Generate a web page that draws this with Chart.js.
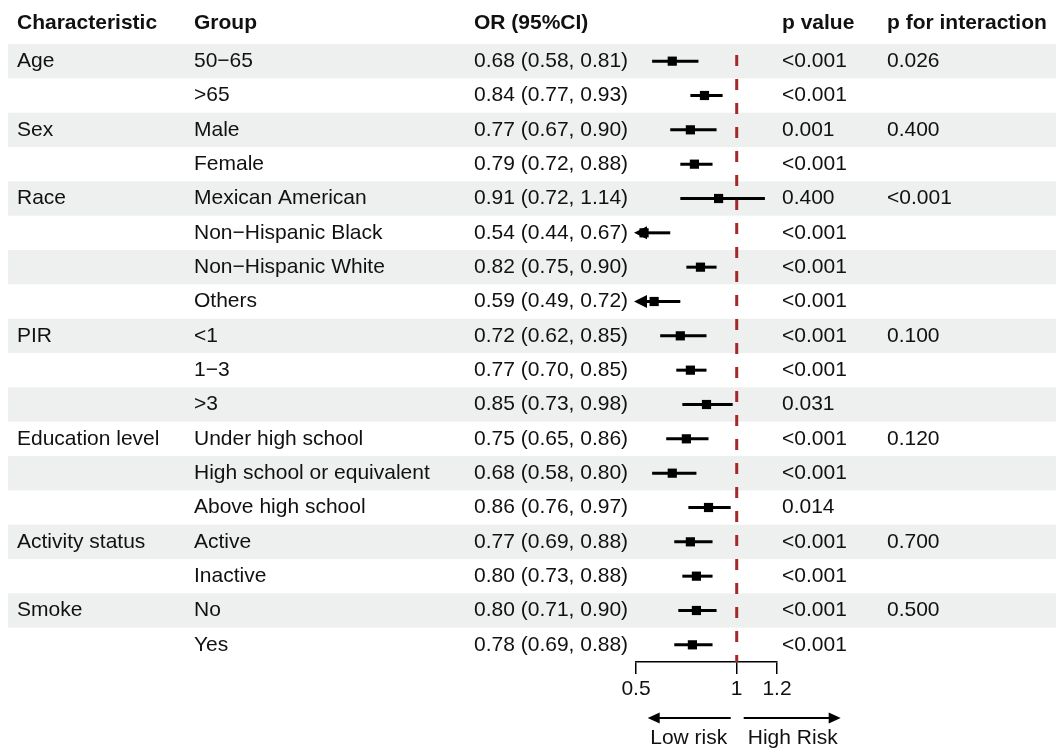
<!DOCTYPE html>
<html>
<head>
<meta charset="utf-8">
<script src="https://cdn.jsdelivr.net/npm/chart.js@4"></script>
<style>
  html, body { margin: 0; padding: 0; background: #fff; }
  #forest { display: block; }
</style>
</head>
<body>
<canvas id="forest" width="1056" height="749"></canvas>
<script>
// ===== DATA =====
const characteristics = ['Age', '', 'Sex', '', 'Race', '', '', '', 'PIR', '', '', 'Education level', '', '', 'Activity status', '', 'Smoke', ''];
const groups = ['50\u221265', '>65', 'Male', 'Female', 'Mexican American', 'Non\u2212Hispanic Black', 'Non\u2212Hispanic White', 'Others',
    '<1', '1\u22123', '>3', 'Under high school', 'High school or equivalent', 'Above high school', 'Active', 'Inactive', 'No', 'Yes'];
const orValues = [0.68, 0.84, 0.77, 0.79, 0.91, 0.54, 0.82, 0.59, 0.72, 0.77, 0.85, 0.75, 0.68, 0.86, 0.77, 0.80, 0.80, 0.78];
const ciLower = [0.58, 0.77, 0.67, 0.72, 0.72, 0.44, 0.75, 0.49, 0.62, 0.70, 0.73, 0.65, 0.58, 0.76, 0.69, 0.73, 0.71, 0.69];
const ciUpper = [0.81, 0.93, 0.90, 0.88, 1.14, 0.67, 0.90, 0.72, 0.85, 0.85, 0.98, 0.86, 0.80, 0.97, 0.88, 0.88, 0.90, 0.88];
const pValues = ['<0.001', '<0.001', '0.001', '<0.001', '0.400', '<0.001', '<0.001', '<0.001', '<0.001', '<0.001', '0.031',
    '<0.001', '<0.001', '0.014', '<0.001', '<0.001', '<0.001', '<0.001'];
const pInteraction = ['0.026', '', '0.400', '', '<0.001', '', '', '', '0.100', '', '', '0.120', '', '', '0.700', '', '0.500', ''];
const headers = ['Characteristic', 'Group', 'OR (95%CI)', 'p value', 'p for interaction'];
const xTicks = [0.5, 1, 1.2];
const xTickLabels = ['0.5', '1', '1.2'];

// ===== LAYOUT =====
const FONT = '"Liberation Sans", Arial, sans-serif';
const FONT_SIZE = 21;
const colX = [17, 194, 474, 782, 887];
const headerY = 23;
const bandColor = '#eef0ef';
const refColor = '#a3282b';

const fmt = v => v.toFixed(2);
const orText = orValues.map((v, i) => `${fmt(v)} (${fmt(ciLower[i])}, ${fmt(ciUpper[i])})`);

const forestTable = {
    id: 'forestTable',
    beforeDraw(chart) {
        const { ctx, scales: { y } } = chart;
        const half = Math.abs(y.getPixelForValue(1) - y.getPixelForValue(0)) / 2;
        ctx.save();
        ctx.fillStyle = bandColor;
        groups.forEach((g, i) => {
            if (i % 2 !== 0) return;
            const cy = y.getPixelForValue(i);
            ctx.fillRect(8, cy - half, chart.width - 8, half * 2);
        });
        ctx.restore();
    },
    beforeDatasetsDraw(chart) {
        const { ctx, chartArea, scales: { x, y } } = chart;
        ctx.save();

        // reference line at OR = 1
        const x1 = x.getPixelForValue(1);
        ctx.strokeStyle = refColor;
        ctx.lineWidth = 3;
        ctx.setLineDash([11, 13]);
        ctx.beginPath();
        ctx.moveTo(x1, chartArea.top + 11);
        ctx.lineTo(x1, chartArea.bottom);
        ctx.stroke();
        ctx.setLineDash([]);

        // confidence intervals, with an arrow when cut at the axis edge
        ctx.strokeStyle = '#000';
        ctx.fillStyle = '#000';
        ctx.lineWidth = 3;
        orValues.forEach((v, i) => {
            const cy = y.getPixelForValue(i);
            const clipped = ciLower[i] < x.min;
            const left = x.getPixelForValue(Math.max(ciLower[i], x.min));
            const right = x.getPixelForValue(Math.min(ciUpper[i], x.max));
            ctx.beginPath();
            ctx.moveTo(clipped ? left + 9 : left, cy);
            ctx.lineTo(right, cy);
            ctx.stroke();
            if (clipped) {
                ctx.beginPath();
                ctx.moveTo(left - 2, cy);
                ctx.lineTo(left + 11, cy - 6.5);
                ctx.lineTo(left + 11, cy + 6.5);
                ctx.closePath();
                ctx.fill();
            }
        });
        ctx.restore();
    },
    afterDraw(chart) {
        const { ctx, scales: { x, y } } = chart;
        ctx.save();
        ctx.fillStyle = '#111';
        ctx.textBaseline = 'middle';
        ctx.textAlign = 'left';

        ctx.font = `bold ${FONT_SIZE}px ${FONT}`;
        headers.forEach((h, c) => ctx.fillText(h, colX[c], headerY));

        ctx.font = `${FONT_SIZE}px ${FONT}`;
        groups.forEach((g, i) => {
            const cy = y.getPixelForValue(i);
            const cells = [characteristics[i], g, orText[i], pValues[i], pInteraction[i]];
            cells.forEach((t, c) => { if (t) ctx.fillText(t, colX[c], cy); });
        });

        // direction arrows under the axis
        const x1 = x.getPixelForValue(1);
        const ay = 718;
        ctx.strokeStyle = '#000';
        ctx.fillStyle = '#000';
        ctx.lineWidth = 2;
        const arrow = (from, to) => {
            const dir = Math.sign(to - from);
            ctx.beginPath();
            ctx.moveTo(from, ay);
            ctx.lineTo(to - dir * 8, ay);
            ctx.stroke();
            ctx.beginPath();
            ctx.moveTo(to, ay);
            ctx.lineTo(to - dir * 12, ay - 5.5);
            ctx.lineTo(to - dir * 12, ay + 5.5);
            ctx.closePath();
            ctx.fill();
        };
        arrow(x1 - 6, x1 - 89);
        arrow(x1 + 7, x1 + 104);
        ctx.fillStyle = '#111';
        ctx.textAlign = 'center';
        ctx.fillText('Low risk', x1 - 48, 738);
        ctx.fillText('High Risk', x1 + 56, 738);
        ctx.restore();
    }
};

new Chart(document.getElementById('forest'), {
    type: 'scatter',
    data: {
        datasets: [{
            data: orValues.map((v, i) => ({ x: v, y: i })),
            pointStyle: 'rect',
            pointRadius: 6.5,
            backgroundColor: '#000',
            borderWidth: 0,
        }]
    },
    options: {
        responsive: false,
        animation: false,
        events: [],
        layout: { padding: { left: 636, right: 279, top: 44, bottom: 47 } },
        plugins: { legend: { display: false }, tooltip: { enabled: false } },
        scales: {
            x: {
                type: 'linear',
                min: 0.5,
                max: 1.2,
                afterBuildTicks: scale => { scale.ticks = xTicks.map(v => ({ value: v })); },
                afterFit: scale => { scale.height = 40; },
                grid: { drawOnChartArea: false, drawTicks: true, tickLength: 12, color: '#000', lineWidth: 1.5 },
                border: { display: true, color: '#000', width: 1.5 },
                ticks: {
                    color: '#111',
                    padding: 3,
                    maxRotation: 0,
                    font: { family: FONT, size: FONT_SIZE },
                    callback: (value, idx) => xTickLabels[idx],
                },
            },
            y: {
                type: 'linear',
                min: -0.5,
                max: 17.5,
                reverse: true,
                display: false,
            }
        }
    },
    plugins: [forestTable]
});
</script>
</body>
</html>
